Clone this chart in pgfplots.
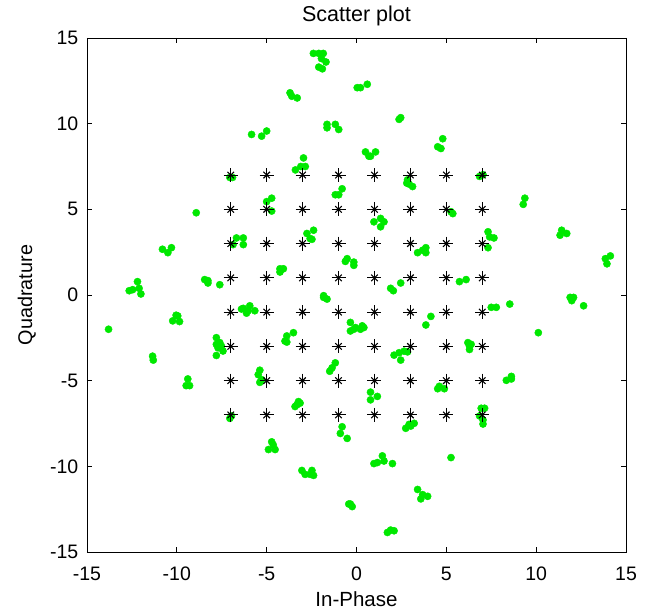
\documentclass[border=0pt]{standalone}
\usepackage{pgfplots}
\pgfplotsset{compat=1.18}
\usepackage{fontspec}
\setmainfont{Liberation Sans}
\definecolor{dotgreen}{RGB}{0,232,0}
\begin{document}
\fontsize{19.5}{23}\selectfont
\begin{tikzpicture}
\begin{axis}[
  scale only axis,
  width=539pt, height=514pt,
  xmin=-15, xmax=15, ymin=-15, ymax=15,
  xtick={-15,-10,-5,0,5,10,15},
  ytick={-15,-10,-5,0,5,10,15},
  xticklabels={-15,-10,-5,0,5,10,15},
  yticklabels={-15,-10,-5,0,5,10,15},
  tick align=inside, xtick pos=both, ytick pos=both,
  major tick length=5pt,
  axis line style={line width=0.9pt, black},
  tick style={line width=0.7pt, black},
  xticklabel style={anchor=base, yshift=-28pt, font=\fontsize{19.5}{23}\selectfont},
  yticklabel style={anchor=east, xshift=-2pt, font=\fontsize{19.5}{23}\selectfont},
  title={Scatter plot},
  title style={at={(axis description cs:0.5,1)}, anchor=base, yshift=10pt, font=\fontsize{21.5}{25}\selectfont},
  xlabel={In-Phase},
  xlabel style={at={(axis description cs:0.5,0)}, anchor=base, yshift=-54.5pt, font=\fontsize{20.5}{24}\selectfont},
  ylabel={Quadrature},
  ylabel style={at={(axis description cs:-0.102,0.5)}, anchor=base, font=\fontsize{19.8}{24}\selectfont},
  clip=false,
]
\addplot[only marks, mark=*, mark size=3.6pt, color=dotgreen, mark options={draw=dotgreen, fill=dotgreen}] coordinates {
(-2.4,14.1)(-2.1,14.1)(-1.85,14.1)(-1.95,13.8)(-1.7,13.6)(-2.1,13.3)(-1.9,13.2)
(-3.7,11.8)(-3.6,11.6)(-3.3,11.5)
(0.04,12.1)(0.22,12.1)(0.6,12.3)
(-1.64,9.96)(-1.64,9.76)(-1.18,9.96)(-0.99,9.66)
(-5.84,9.37)(-5.28,9.27)(-5.0,9.57)
(-2.95,8.0)(-3.4,7.3)(-3.1,7.5)(-2.85,7.5)
(-7.05,6.86)(-6.9,6.86)
(-0.8,6.2)(-1.18,5.85)(-0.99,5.85)
(-4.72,5.65)(-5.0,5.45)(-4.72,4.9)
(-8.92,4.8)
(-6.68,3.33)(-6.3,3.33)(-6.87,2.94)(-6.3,2.94)
(-2.39,3.78)(-2.76,3.59)(-2.58,3.29)(-2.48,3.25)
(-10.3,2.76)(-10.8,2.67)(-10.5,2.47)
(-0.52,2.12)(-0.15,1.92)(-0.15,1.73)(-0.62,1.96)
(-4.26,1.53)(-4.07,1.53)(-4.26,1.34)
(-8.45,0.9)(-8.27,0.84)(-8.27,0.7)(-7.61,0.6)
(-12.19,0.78)(-12.46,0.31)(-12.65,0.25)(-12.1,0.39)(-12.0,0.06)
(-1.83,-0.04)(-1.83,-0.14)(-1.64,-0.24)
(2.37,10.25)(2.46,10.35)
(4.8,9.12)(4.52,8.65)(4.7,8.55)
(0.5,8.35)(0.78,8.1)(1.06,8.35)(0.69,8.1)
(2.84,6.72)(2.93,6.47)(3.12,6.33)(2.8,6.53)
(6.85,6.92)(7.04,7.02)
(9.37,5.65)(9.28,5.29)
(5.26,4.86)(5.36,4.75)
(0.97,4.27)(1.34,4.47)(1.53,4.27)(1.34,3.98)
(7.32,3.69)(7.41,3.39)(7.65,3.33)(7.32,2.76)
(11.42,3.78)(11.33,3.49)(11.7,3.59)
(3.4,2.47)(3.68,2.61)(3.86,2.76)(3.86,2.47)
(14.13,2.28)(13.85,2.12)(13.94,1.82)
(1.9,0.39)(2.05,0.25)(2.46,0.7)
(5.73,0.78)(6.1,0.9)
(-6.3,-0.78)(-5.94,-0.63)(-6.03,-0.92)(-5.66,-0.92)(-6.12,-1.06)(-6.4,-0.82)
(-10.04,-1.18)(-10.23,-1.51)(-9.85,-1.55)(-9.95,-1.22)
(-13.8,-2.0)
(-0.34,-1.6)(-0.34,-2.1)(-0.15,-2.0)(0.32,-1.8)(0.41,-1.9)(0.22,-2.0)(-0.06,-1.9)
(-3.51,-2.2)(-3.88,-2.39)(-3.98,-2.69)(-3.88,-2.75)
(-7.8,-2.49)(-7.8,-2.88)(-7.61,-2.78)(-7.52,-2.98)(-7.43,-3.27)(-7.8,-3.53)(-7.71,-3.08)
(-11.35,-3.57)(-11.31,-3.8)
(-5.38,-4.39)(-5.47,-4.65)(-5.28,-4.94)(-5.38,-5.1)
(-1.18,-3.96)(-1.36,-4.25)(-1.49,-4.45)
(-9.39,-4.9)(-9.48,-5.29)(-9.29,-5.29)
(-3.23,-6.22)(-3.42,-6.51)(-3.32,-6.41)(-3.14,-6.31)
(-7.05,-7.2)(-6.96,-7.06)
(-0.8,-7.69)(-0.9,-8.08)(-0.52,-8.37)
(-4.72,-8.57)(-4.9,-9.02)(-4.53,-9.02)(-4.63,-8.76)
(-3.04,-10.24)(-2.86,-10.47)(-2.48,-10.24)(-2.39,-10.53)(-2.58,-10.47)
(-0.34,-12.2)(-0.24,-12.35)(-0.43,-12.2)
(7.5,-0.72)(7.78,-0.72)(8.53,-0.53)
(11.89,-0.14)(12.08,-0.14)(11.98,-0.33)(12.64,-0.63)
(4.14,-1.25)(3.86,-1.75)
(10.12,-2.2)
(6.2,-2.78)(6.29,-2.98)(6.29,-3.18)(6.38,-2.88)
(2.09,-3.51)(2.37,-3.37)(2.65,-3.28)(2.46,-3.8)(2.84,-3.32)
(8.34,-4.98)(8.62,-4.75)(8.62,-4.9)
(4.61,-5.33)(4.52,-5.47)(4.89,-5.47)
(0.78,-5.67)(0.78,-6.12)(1.16,-5.92)
(6.94,-6.61)(7.13,-6.61)(7.04,-7.29)(7.04,-7.53)(6.85,-7.06)
(2.74,-7.78)(2.93,-7.55)(3.21,-7.49)(3.02,-7.65)
(0.97,-9.84)(1.16,-9.78)(1.44,-9.39)(1.53,-9.69)(2.0,-9.84)
(5.26,-9.49)
(3.4,-11.35)(3.58,-11.9)(3.68,-11.65)(3.96,-11.75)
(1.72,-13.86)(1.9,-13.72)(2.09,-13.76)
};
\addplot[only marks, mark=+, mark size=7pt, black, mark options={line width=1.1pt}] coordinates {
(-7,7)(-5,7)(-3,7)(-1,7)(1,7)(3,7)(5,7)(7,7)
(-7,5)(-5,5)(-3,5)(-1,5)(1,5)(3,5)(5,5)(7,5)
(-7,3)(-5,3)(-3,3)(-1,3)(1,3)(3,3)(5,3)(7,3)
(-7,1)(-5,1)(-3,1)(-1,1)(1,1)(3,1)(5,1)(7,1)
(-7,-1)(-5,-1)(-3,-1)(-1,-1)(1,-1)(3,-1)(5,-1)(7,-1)
(-7,-3)(-5,-3)(-3,-3)(-1,-3)(1,-3)(3,-3)(5,-3)(7,-3)
(-7,-5)(-5,-5)(-3,-5)(-1,-5)(1,-5)(3,-5)(5,-5)(7,-5)
(-7,-7)(-5,-7)(-3,-7)(-1,-7)(1,-7)(3,-7)(5,-7)(7,-7)
};
\addplot[only marks, mark=x, mark size=4.6pt, black, mark options={line width=1.1pt}] coordinates {
(-7,7)(-5,7)(-3,7)(-1,7)(1,7)(3,7)(5,7)(7,7)
(-7,5)(-5,5)(-3,5)(-1,5)(1,5)(3,5)(5,5)(7,5)
(-7,3)(-5,3)(-3,3)(-1,3)(1,3)(3,3)(5,3)(7,3)
(-7,1)(-5,1)(-3,1)(-1,1)(1,1)(3,1)(5,1)(7,1)
(-7,-1)(-5,-1)(-3,-1)(-1,-1)(1,-1)(3,-1)(5,-1)(7,-1)
(-7,-3)(-5,-3)(-3,-3)(-1,-3)(1,-3)(3,-3)(5,-3)(7,-3)
(-7,-5)(-5,-5)(-3,-5)(-1,-5)(1,-5)(3,-5)(5,-5)(7,-5)
(-7,-7)(-5,-7)(-3,-7)(-1,-7)(1,-7)(3,-7)(5,-7)(7,-7)
};
\end{axis}
\pgfresetboundingbox
\path ([shift={(-87pt,-60pt)}]current axis.south west) rectangle ([shift={(23pt,38pt)}]current axis.north east);
\end{tikzpicture}
\end{document}
